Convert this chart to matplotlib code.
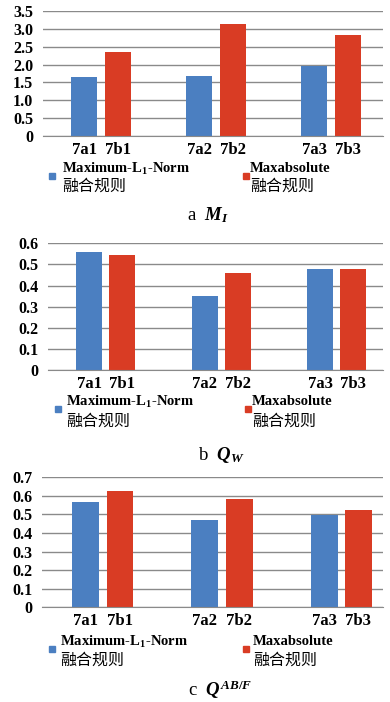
import matplotlib
matplotlib.use('Agg')
import matplotlib.pyplot as plt
from matplotlib.patches import Rectangle
import numpy as np

# data
labels_a = ['7a1', '7a2', '7a3']
labels_b = ['7b1', '7b2', '7b3']
mi_l1 = [1.66, 1.68, 1.97]
mi_max = [2.36, 3.14, 2.83]
qw_l1 = [0.560, 0.352, 0.480]
qw_max = [0.546, 0.461, 0.480]
qabf_l1 = [0.569, 0.470, 0.499]
qabf_max = [0.628, 0.581, 0.524]
yticks_mi = [0, 0.5, 1.0, 1.5, 2.0, 2.5, 3.0, 3.5]
yticks_q6 = [0, 0.1, 0.2, 0.3, 0.4, 0.5, 0.6]
yticks_q7 = [0, 0.1, 0.2, 0.3, 0.4, 0.5, 0.6, 0.7]
series_names = ['Maximum-L$_1$-Norm', 'Maxabsolute']
rule_cn = '融合规则'

BLUE = '#4b7fc1'
RED = '#d93c24'
W, H = 390, 702

plt.rcParams['font.family'] = ['Liberation Serif', 'Noto Sans CJK SC']
plt.rcParams['mathtext.fontset'] = 'custom'
plt.rcParams['mathtext.rm'] = 'Liberation Serif:bold'
plt.rcParams['mathtext.it'] = 'Liberation Serif:italic:bold'
plt.rcParams['mathtext.bf'] = 'Liberation Serif:bold'

fig = plt.figure(figsize=(W / 100, H / 100), dpi=100)


def fmt(v):
    return '0' if v == 0 else '%.1f' % v


def panel(box, xlim, vals1, vals2, yticks, leg, caption):
    left, top, right, bottom = box
    ax = fig.add_axes([left / W, 1 - bottom / H, (right - left) / W, (bottom - top) / H])
    x = np.arange(len(vals1))
    off, bw = 0.144, 0.226
    ax.bar(x - off, vals1, bw, color=BLUE, zorder=3)
    ax.bar(x + off, vals2, bw, color=RED, zorder=3)
    ax.set_xlim(*xlim)
    ax.set_ylim(0, yticks[-1])
    ax.set_yticks(yticks)
    ax.set_yticklabels([fmt(v) for v in yticks], fontsize=11.5, fontweight='bold')
    ax.set_xticks(np.concatenate([x - off, x + off]))
    ax.set_xticklabels(labels_a + labels_b, fontsize=12, fontweight='bold')
    ax.tick_params(length=0, axis='y', pad=7)
    ax.tick_params(length=0, axis='x', pad=4)
    ax.grid(axis='y', color='#8a8a8a', lw=1.0, zorder=0)
    for s in ['left', 'right', 'top']:
        ax.spines[s].set_visible(False)
    ax.spines['bottom'].set_color('#8a8a8a')
    ax.spines['bottom'].set_zorder(4)

    # legend drawn by hand, two columns
    for (sx, sy, tx, ty1, ty2), col, name in zip(leg, [BLUE, RED], series_names):
        fig.add_artist(Rectangle((sx / W, 1 - (sy + 6) / H), 6 / W, 6 / H,
                                 transform=fig.transFigure, color=col))
        fig.text(tx / W, 1 - ty1 / H, name, fontsize=10.5, fontweight='bold',
                 va='center', ha='left')
        fig.text(tx / W, 1 - ty2 / H, rule_cn, fontsize=11.5, va='center', ha='left',
                 family=['Noto Sans CJK SC', 'DejaVu Sans'])
    fig.text(caption[0] / W, 1 - caption[1] / H, caption[2], fontsize=13.5,
             va='baseline', ha='center', family='Liberation Serif')
    return ax


panel((43, 11, 383, 136), (-0.504, 2.452), mi_l1, mi_max, yticks_mi,
      [(49, 173, 62, 169, 186), (243, 173, 250, 169, 186)],
      (208, 220, 'a  $M_I$'))
panel((48, 243.3, 383, 370), (-0.5, 2.40), qw_l1, qw_max, yticks_q6,
      [(55, 406, 66, 401.5, 421), (245, 406, 252, 401.5, 421)],
      (221, 460, 'b  $Q_W$'))
panel((42, 477.3, 383, 607.3), (-0.51, 2.35), qabf_l1, qabf_max, yticks_q7,
      [(49, 646, 60, 641.5, 660.5), (243, 646, 253, 641.5, 660.5)],
      (220, 696, 'c  $Q^{AB/F}$'))

fig.savefig('out.png', dpi=100, facecolor='white')
